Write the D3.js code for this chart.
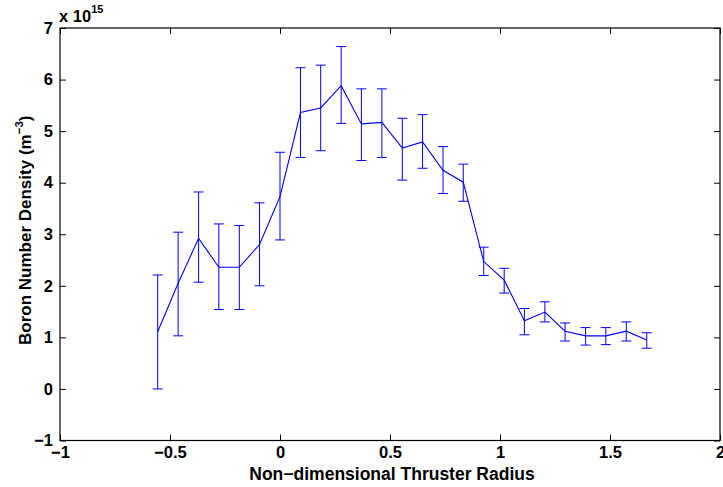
<!DOCTYPE html>
<html>
<head>
<meta charset="utf-8">
<script src="https://cdn.jsdelivr.net/npm/d3@7"></script>
<style>
  html, body { margin: 0; padding: 0; background: #fff; }
  svg { display: block; }
  text { font-family: "Liberation Sans", Arial, Helvetica, sans-serif; font-weight: bold; fill: #000; }
</style>
</head>
<body>
<div id="chart"></div>
<script>
// ---- data (values in units of 1e15 m^-3) ----
const radius = [-0.556, -0.463, -0.370, -0.278, -0.185, -0.093, 0.000, 0.093, 0.185, 0.278,
                0.370, 0.463, 0.556, 0.648, 0.741, 0.833, 0.926, 1.019, 1.111, 1.204,
                1.296, 1.389, 1.481, 1.574, 1.667];
const density = [1.11, 2.05, 2.92, 2.36, 2.36, 2.80, 3.73, 5.36, 5.45, 5.88,
                 5.14, 5.17, 4.67, 4.79, 4.24, 4.01, 2.47, 2.11, 1.32, 1.49,
                 1.12, 1.03, 1.03, 1.12, 0.95];
const upperBound = [2.21, 3.04, 3.82, 3.20, 3.17, 3.61, 4.59, 6.23, 6.28, 6.64,
                    5.82, 5.82, 5.25, 5.32, 4.70, 4.36, 2.75, 2.34, 1.56, 1.69,
                    1.28, 1.19, 1.19, 1.30, 1.09];
const lowerBound = [0.00, 1.03, 2.07, 1.54, 1.54, 2.00, 2.89, 4.49, 4.62, 5.15,
                    4.43, 4.49, 4.05, 4.28, 3.79, 3.64, 2.20, 1.86, 1.05, 1.30,
                    0.93, 0.85, 0.86, 0.93, 0.79];
const xTicks = [-1, -0.5, 0, 0.5, 1, 1.5, 2];
const xTickLabels = ["\u22121", "\u22120.5", "0", "0.5", "1", "1.5", "2"];
const yTicks = [-1, 0, 1, 2, 3, 4, 5, 6, 7];
const yTickLabels = ["\u22121", "0", "1", "2", "3", "4", "5", "6", "7"];
const xLabel = "Non\u2212dimensional Thruster Radius";
const yLabelMain = "Boron Number Density (m";
const yLabelSup = "\u22123";
const exponentText = "15";

// ---- layout ----
const W = 723, H = 487;
const mLeft = 60, mRight = 720, mTop = 28, mBottom = 440.5;
const blue = "#0000ff";

const svg = d3.select("#chart").append("svg").attr("width", W).attr("height", H);

const x = d3.scaleLinear().domain([-1, 2]).range([mLeft, mRight]);
const y = d3.scaleLinear().domain([-1, 7]).range([mBottom, mTop]);

const fs = 16.5;
const fsLabel = 17.5;

// axes (inward ticks on all four sides)
const gx = svg.append("g").attr("transform", `translate(0,${mBottom})`)
  .call(d3.axisBottom(x).tickValues(xTicks).tickFormat((d, i) => xTickLabels[i]).tickSize(-6).tickPadding(6));
const gxt = svg.append("g").attr("transform", `translate(0,${mTop})`)
  .call(d3.axisTop(x).tickValues(xTicks).tickFormat("").tickSize(-6));
const gy = svg.append("g").attr("transform", `translate(${mLeft},0)`)
  .call(d3.axisLeft(y).tickValues(yTicks).tickFormat((d, i) => yTickLabels[i]).tickSize(-6).tickPadding(7));
const gyr = svg.append("g").attr("transform", `translate(${mRight},0)`)
  .call(d3.axisRight(y).tickValues(yTicks).tickFormat("").tickSize(-6));

[gx, gxt, gy, gyr].forEach(g => {
  g.attr("font-family", null).attr("font-size", null);
  g.select(".domain").remove();
  g.selectAll(".tick line").attr("stroke", "#000").attr("stroke-width", 1);
  g.selectAll("text").attr("font-size", fs).attr("fill", "#000");
});

// box
svg.append("rect")
  .attr("x", mLeft).attr("y", mTop)
  .attr("width", mRight - mLeft).attr("height", mBottom - mTop)
  .attr("fill", "none").attr("stroke", "#000").attr("stroke-width", 1.2);

// data
const pts = radius.map((r, i) => ({ r, v: density[i], hi: upperBound[i], lo: lowerBound[i] }));
const capHalf = 5;
const eb = svg.append("g").attr("stroke", blue).attr("stroke-width", 1).attr("fill", "none");
pts.forEach(p => {
  eb.append("line").attr("x1", x(p.r)).attr("x2", x(p.r)).attr("y1", y(p.lo)).attr("y2", y(p.hi));
  eb.append("line").attr("x1", x(p.r) - capHalf).attr("x2", x(p.r) + capHalf).attr("y1", y(p.lo)).attr("y2", y(p.lo));
  eb.append("line").attr("x1", x(p.r) - capHalf).attr("x2", x(p.r) + capHalf).attr("y1", y(p.hi)).attr("y2", y(p.hi));
});

svg.append("path")
  .datum(pts)
  .attr("fill", "none").attr("stroke", blue).attr("stroke-width", 1.1)
  .attr("d", d3.line().x(d => x(d.r)).y(d => y(d.v)));

// exponent label
const ex = svg.append("text").attr("x", mLeft - 1).attr("y", 22).attr("font-size", fs);
ex.append("tspan").text("x 10");
ex.append("tspan").attr("font-size", 11).attr("dy", -9).text(exponentText);

// axis labels
svg.append("text")
  .attr("x", (mLeft + mRight) / 2 + 2).attr("y", 480)
  .attr("text-anchor", "middle").attr("font-size", fsLabel)
  .text(xLabel);

const yl = svg.append("text")
  .attr("transform", `translate(31,${(mTop + mBottom) / 2 - 4}) rotate(-90)`)
  .attr("text-anchor", "middle").attr("font-size", 17);
yl.append("tspan").text(yLabelMain);
yl.append("tspan").attr("font-size", 11.5).attr("dy", -8).text(yLabelSup);
yl.append("tspan").attr("dy", 8).text(")");
</script>
</body>
</html>
